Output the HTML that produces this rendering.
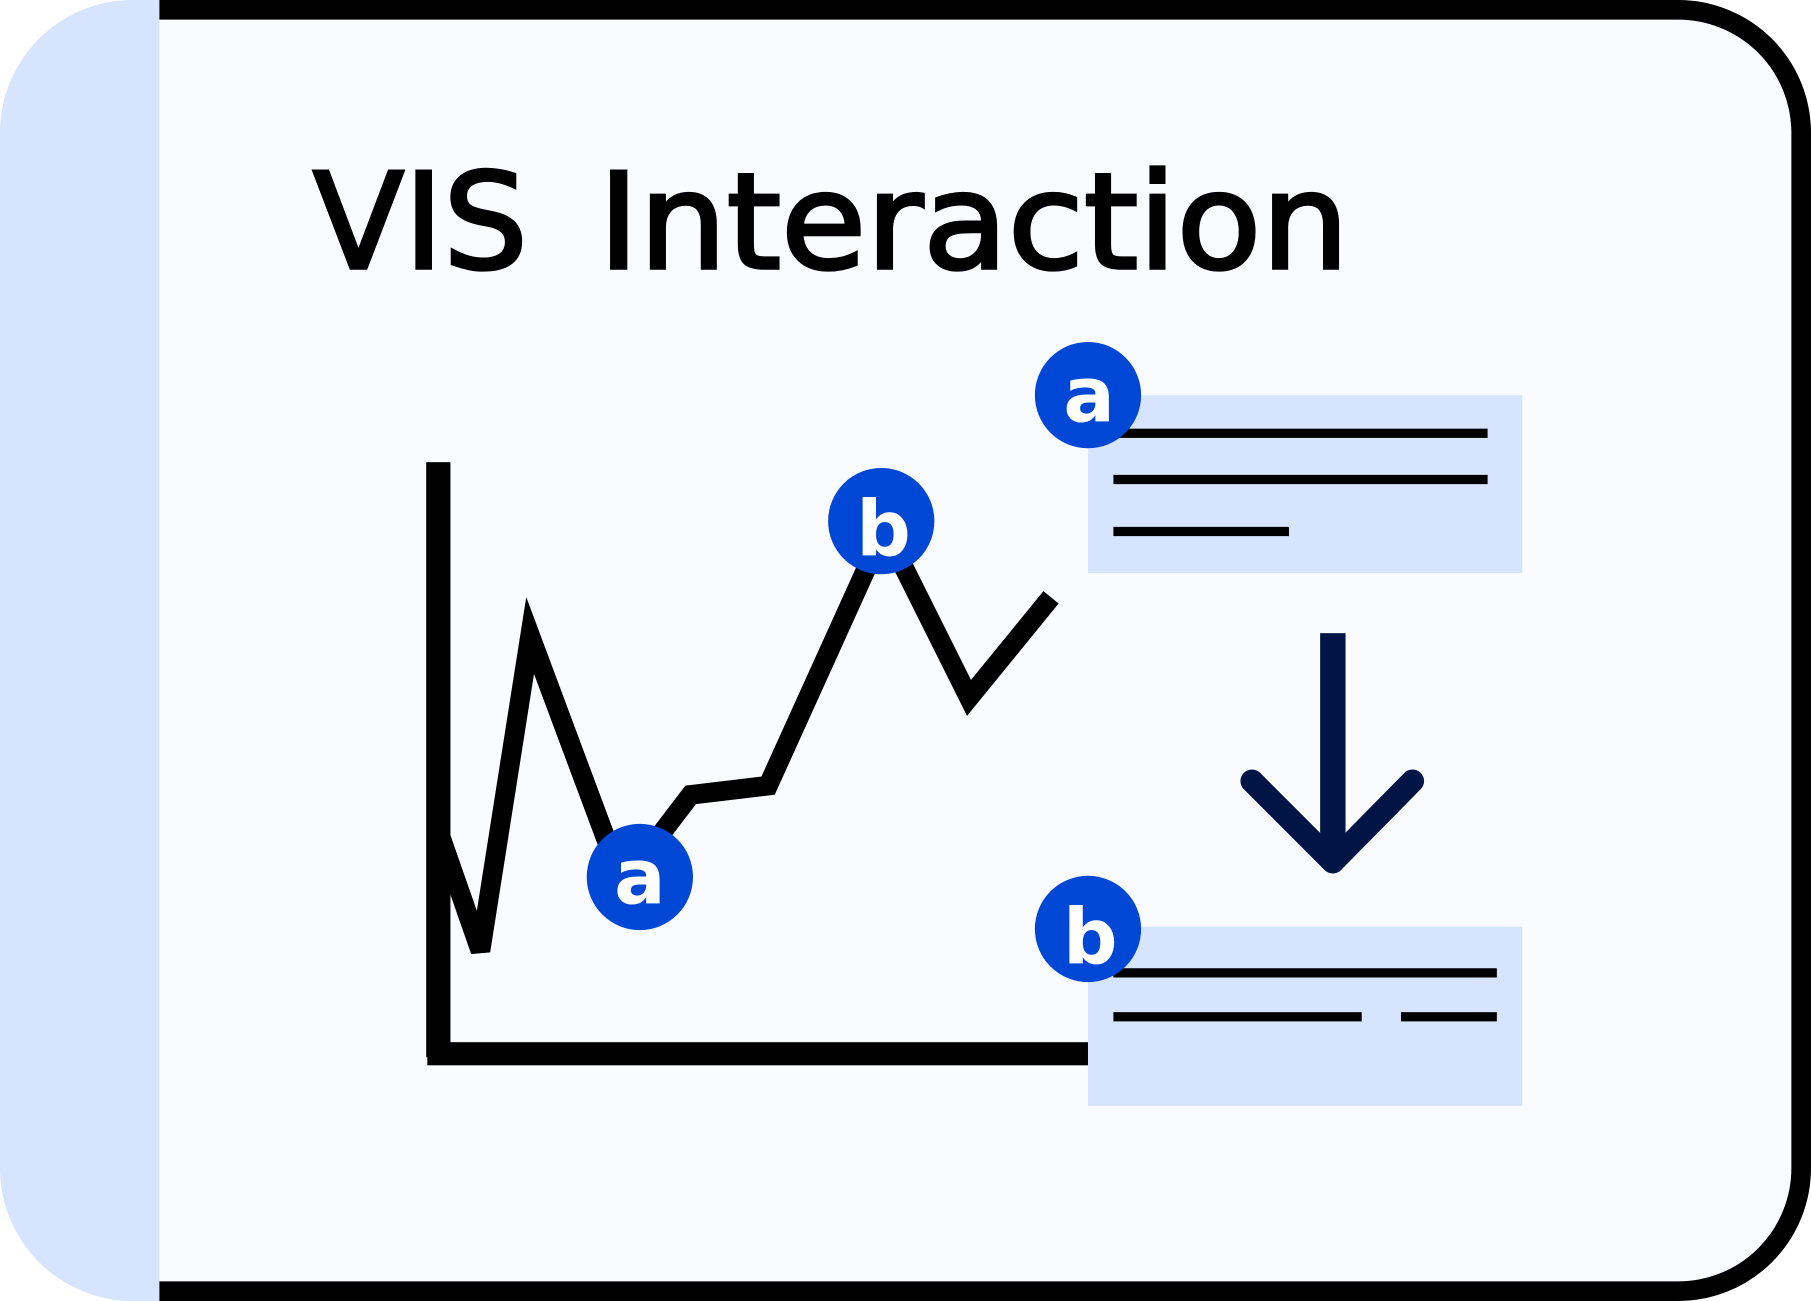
<!DOCTYPE html>
<html><head><meta charset="utf-8"><style>html,body{margin:0;padding:0;background:#fff}svg{display:block}</style></head>
<body>
<svg width="1811" height="1301" viewBox="0 0 1568 1126" preserveAspectRatio="none" xmlns="http://www.w3.org/2000/svg">
<rect x="0" y="0" width="1568" height="1126" fill="#ffffff"/>
<path d="M115 0 H138 V1126 H115 A115 115 0 0 1 0 1011 V115 A115 115 0 0 1 115 0 Z" fill="#d6e4fd"/>
<path d="M138 8.5 H1453 A106.5 106.5 0 0 1 1559.5 115 V1011 A106.5 106.5 0 0 1 1453 1117.5 H138" fill="#f9fbfe" stroke="#000" stroke-width="17"/>
<g font-family="'DejaVu Sans', sans-serif" font-size="115" fill="#000" stroke="#000" stroke-width="3">
<text x="271" y="232" textLength="186" lengthAdjust="spacingAndGlyphs">VIS</text>
<text x="518" y="232" textLength="650" lengthAdjust="spacingAndGlyphs">Interaction</text>
</g>
<rect x="369" y="400" width="21" height="515" fill="#000"/>
<rect x="370" y="902" width="572" height="20" fill="#000"/>
<polyline points="380,720 416,823 459,550 528,735" fill="none" stroke="#000" stroke-width="17" stroke-linejoin="miter"/>
<polyline points="572,722 598,688 665,680 752,488" fill="none" stroke="#000" stroke-width="17"/>
<polyline points="778,482 839,604 910,517" fill="none" stroke="#000" stroke-width="17"/>
<rect x="942" y="342" width="376" height="154" fill="#d6e4fd"/>
<rect x="964" y="371" width="324" height="8" fill="#000"/>
<rect x="964" y="411" width="324" height="8" fill="#000"/>
<rect x="964" y="456" width="152" height="8" fill="#000"/>
<rect x="942" y="802" width="376" height="155" fill="#d6e4fd"/>
<rect x="964" y="838" width="332" height="8" fill="#000"/>
<rect x="964" y="876" width="215" height="8" fill="#000"/>
<rect x="1213" y="876" width="83" height="8" fill="#000"/>
<rect x="1143" y="548" width="22" height="190" fill="#001445"/>
<polyline points="1084,676 1154,746 1223,676" fill="none" stroke="#001445" stroke-width="20" stroke-linecap="round" stroke-linejoin="round"/>
<g fill="#0047d6">
<circle cx="554" cy="759" r="46"/>
<circle cx="763" cy="451" r="46"/>
<circle cx="942" cy="342" r="46"/>
<circle cx="942" cy="804" r="46"/>
</g>
<g font-family="'DejaVu Sans', sans-serif" font-size="66" font-weight="bold" fill="#fff" text-anchor="middle">
<text x="554" y="782">a</text>
<text x="765" y="481">b</text>
<text x="943" y="365">a</text>
<text x="944" y="834">b</text>
</g>
</svg>
</body></html>
